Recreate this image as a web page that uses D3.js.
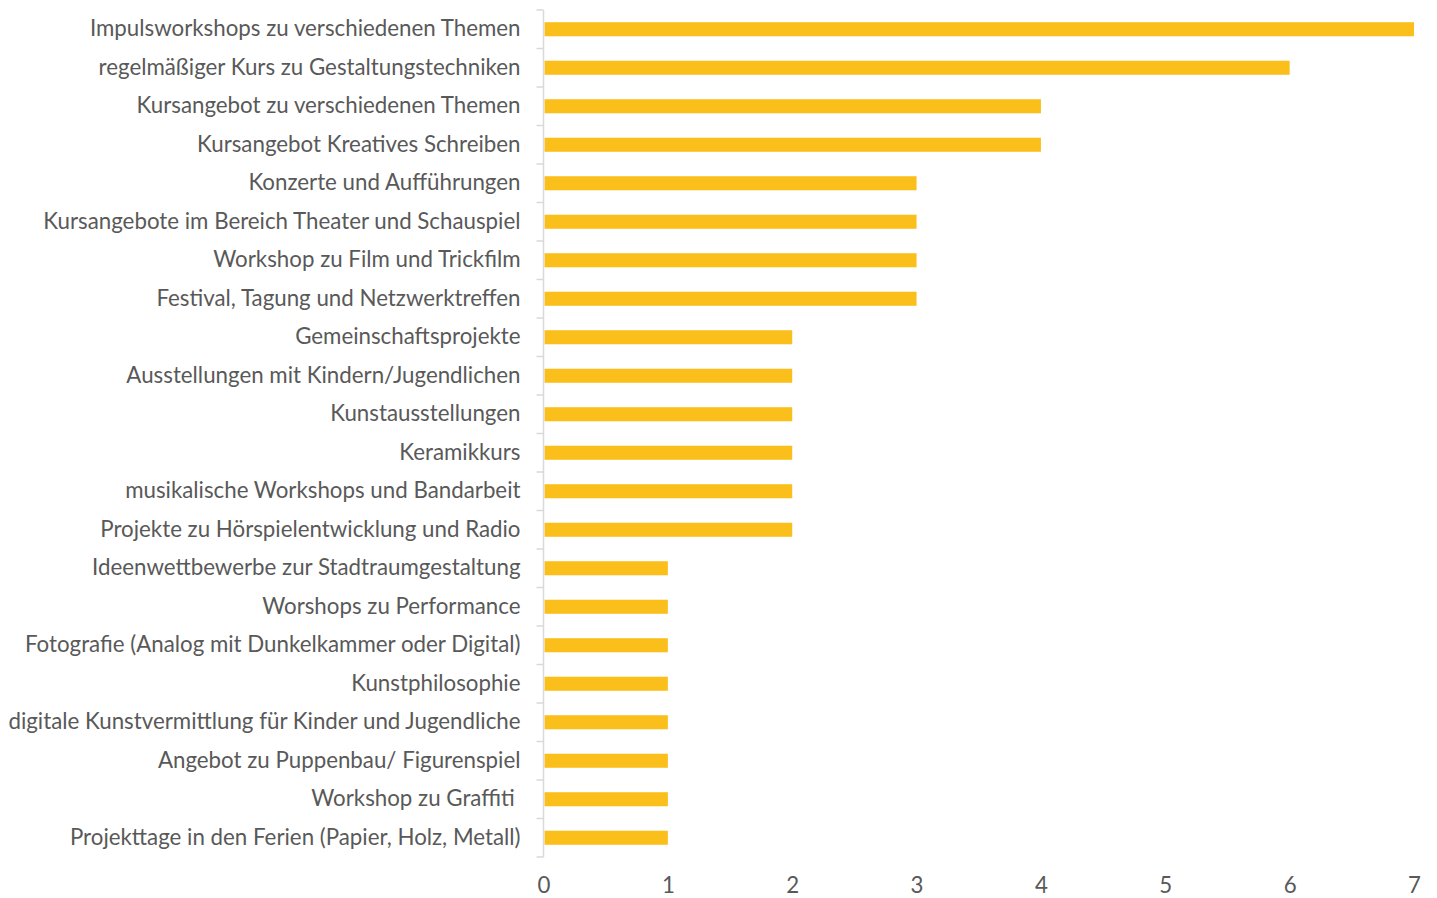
<!DOCTYPE html>
<html>
<head>
<meta charset="utf-8">
<script src="https://cdn.jsdelivr.net/npm/d3@7"></script>
<style>
  body { margin: 0; background: #fff; }
  text { font-family: Lato, "Open Sans", sans-serif; fill: #595959; white-space: pre; }
</style>
</head>
<body>
<div id="chart"></div>
<script>
// data
const categories = [
    "Impulsworkshops zu verschiedenen Themen",
    "regelmäßiger Kurs zu Gestaltungstechniken",
    "Kursangebot zu verschiedenen Themen",
    "Kursangebot Kreatives Schreiben",
    "Konzerte und Aufführungen",
    "Kursangebote im Bereich Theater und Schauspiel",
    "Workshop zu Film und Trickfilm",
    "Festival, Tagung und Netzwerktreffen",
    "Gemeinschaftsprojekte",
    "Ausstellungen mit Kindern/Jugendlichen",
    "Kunstausstellungen",
    "Keramikkurs",
    "musikalische Workshops und Bandarbeit",
    "Projekte zu Hörspielentwicklung und Radio",
    "Ideenwettbewerbe zur Stadtraumgestaltung",
    "Worshops zu Performance",
    "Fotografie (Analog mit Dunkelkammer oder Digital)",
    "Kunstphilosophie",
    "digitale Kunstvermittlung für Kinder und Jugendliche",
    "Angebot zu Puppenbau/ Figurenspiel",
    "Workshop zu Graffiti ",
    "Projekttage in den Ferien (Papier, Holz, Metall)"
];
const values = [7, 6, 4, 4, 3, 3, 3, 3, 2, 2, 2, 2, 2, 2, 1, 1, 1, 1, 1, 1, 1, 1];
const xTicks = [0, 1, 2, 3, 4, 5, 6, 7];

const margin = { top: 10, right: 23, bottom: 41, left: 543.5 };
const width = 1437 - margin.left - margin.right;
const height = 898 - margin.top - margin.bottom;

const svg = d3.select("#chart")
    .append("svg")
    .attr("width", 1437)
    .attr("height", 898)
    .append("g")
    .attr("transform", `translate(${margin.left},${margin.top})`);

const x = d3.scaleLinear()
    .domain([0, 7])
    .range([0, width]);

const y = d3.scaleBand()
    .domain(categories)
    .range([0, height])
    .paddingInner(0.635)
    .paddingOuter(0.3175);

// bars
svg.selectAll(".bar")
    .data(categories.map((c, i) => ({ cat: c, val: values[i] })))
    .enter()
    .append("rect")
    .attr("class", "bar")
    .attr("x", x(0) + 1)
    .attr("y", d => y(d.cat))
    .attr("width", d => x(d.val) - x(0) - 1)
    .attr("height", y.bandwidth())
    .attr("fill", "#FBBF1C");

// y axis line + category separators
const step = y.step();
const bounds = categories.map(c => y(c) - (step - y.bandwidth()) / 2).concat([height]);
svg.append("line")
    .attr("x1", 0).attr("x2", 0)
    .attr("y1", 0).attr("y2", height)
    .attr("stroke", "#D9D9D9")
    .attr("stroke-width", 1.5);
svg.selectAll(".sep")
    .data(bounds)
    .enter()
    .append("line")
    .attr("class", "sep")
    .attr("x1", -7).attr("x2", 0)
    .attr("y1", d => d).attr("y2", d => d)
    .attr("stroke", "#D9D9D9")
    .attr("stroke-width", 1.5);

// category labels
const yAxis = svg.append("g")
    .call(d3.axisLeft(y).tickSize(0).tickPadding(23));
yAxis.select(".domain").remove();
yAxis.selectAll("text")
    .style("font-size", "22.3px")
    .attr("fill", "#595959");

// x axis labels
const xAxis = svg.append("g")
    .attr("transform", `translate(0,${height})`)
    .call(d3.axisBottom(x).tickValues(xTicks).tickSize(0).tickPadding(20).tickFormat(d3.format("d")));
xAxis.select(".domain").remove();
xAxis.selectAll("text")
    .style("font-size", "22.3px")
    .attr("fill", "#595959");
</script>
</body>
</html>
